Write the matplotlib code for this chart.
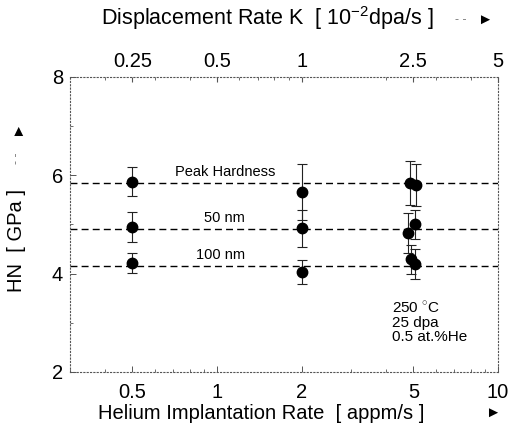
import numpy as np
import matplotlib
matplotlib.use('Agg')
import matplotlib.pyplot as plt
from matplotlib.ticker import FixedLocator, NullFormatter, LogLocator

plt.rcParams['font.family'] = ['Liberation Sans', 'DejaVu Sans']
plt.rcParams['mathtext.fontset'] = 'custom'
plt.rcParams['mathtext.rm'] = 'Liberation Sans'

# helium implantation rate [appm/s]
he_peak = [0.5, 2.0, 4.85, 5.1]
hn_peak = [5.87, 5.67, 5.85, 5.80]
err_peak = [0.29, 0.57, 0.45, 0.43]

he_50 = [0.5, 2.0, 4.8, 5.05]
hn_50 = [4.95, 4.92, 4.83, 5.0]
err_50 = [0.30, 0.37, 0.40, 0.30]

he_100 = [0.5, 2.0, 4.9, 5.05]
hn_100 = [4.22, 4.03, 4.29, 4.20]
err_100 = [0.20, 0.25, 0.30, 0.30]

fit_levels = [5.84, 4.91, 4.16]
fit_names = ['Peak Hardness', '50 nm', '100 nm']

bottom_ticks = [0.5, 1, 2, 5, 10]
bottom_labels = ['0.5', '1', '2', '5', '10']
top_ticks = [0.25, 0.5, 1, 2.5, 5]
top_labels = ['0.25', '0.5', '1', '2.5', '5']
y_ticks = [2, 4, 6, 8]

fig = plt.figure(figsize=(5.12, 4.34), dpi=100)
ax = fig.add_axes([0.1367, 0.1429, 0.836, 0.6797])

ax.set_xscale('log')
ax.set_xlim(0.3, 10)
ax.set_ylim(2, 8)

for lvl in fit_levels:
    ax.axhline(lvl, color='black', lw=1.0, ls=(0, (5, 3)), zorder=2)

for xs, ys, es in [(he_peak, hn_peak, err_peak), (he_50, hn_50, err_50), (he_100, hn_100, err_100)]:
    ax.errorbar(xs, ys, yerr=es, fmt='o', color='black', ms=7.5, ecolor='#222222',
                elinewidth=0.8, capsize=3.6, capthick=0.8, zorder=3)

ax.text(1.07, 5.93, fit_names[0], fontsize=10.5, ha='center', va='bottom')
ax.text(1.06, 4.99, fit_names[1], fontsize=10.5, ha='center', va='bottom')
ax.text(1.03, 4.24, fit_names[2], fontsize=10.5, ha='center', va='bottom')

ax.text(4.2, 3.0, '250 $^{\\circ}$C\n25 dpa\n0.5 at.%He', fontsize=11,
        ha='left', va='center', linespacing=1.0)

for s in ax.spines.values():
    s.set_linestyle((0, (1, 2)))
    s.set_linewidth(0.8)
    s.set_color('#555555')

ax.xaxis.set_major_locator(FixedLocator(bottom_ticks))
ax.set_xticklabels(bottom_labels)
ax.xaxis.set_minor_locator(LogLocator(subs=np.arange(2, 10)))
ax.xaxis.set_minor_formatter(NullFormatter())
ax.set_yticks(y_ticks)
ax.set_yticks([3, 5, 7], minor=True)
ax.tick_params(which='both', direction='in', color='#555555', labelsize=14.5)
ax.tick_params(which='major', length=4, width=0.7)
ax.tick_params(which='minor', length=2, width=0.6)
ax.tick_params(axis='x', pad=8)
ax.tick_params(axis='y', pad=5)

sec = ax.secondary_xaxis('top', functions=(lambda x: x / 2.0, lambda k: k * 2.0))
sec.xaxis.set_major_locator(FixedLocator(top_ticks))
sec.set_xticklabels(top_labels)
sec.xaxis.set_minor_formatter(NullFormatter())
sec.tick_params(which='both', direction='in', color='#555555', labelsize=14.5, pad=4)
sec.spines['top'].set_visible(False)

fig.text(0.51, 0.048, 'Helium Implantation Rate  [ appm/s ]', fontsize=14.5, ha='center', va='center')
fig.text(0.963, 0.048, '\u25ba', fontsize=11, ha='center', va='center')
fig.text(0.522, 0.958, 'Displacement Rate K  [ 10$^{-2}$dpa/s ]', fontsize=15.5, ha='center', va='center')
fig.text(0.9, 0.955, '- -', fontsize=9, ha='center', va='center', color='#777777')
fig.text(0.947, 0.955, '\u25ba', fontsize=11, ha='center', va='center')
fig.text(0.033, 0.447, 'HN  [ GPa ]', fontsize=14.5, rotation=90, ha='center', va='center')
fig.text(0.033, 0.635, '- -', fontsize=9, rotation=90, ha='center', va='center', color='#777777')
fig.text(0.033, 0.705, '\u25ba', fontsize=11, rotation=90, ha='center', va='center')

fig.savefig('out.png', dpi=100)
